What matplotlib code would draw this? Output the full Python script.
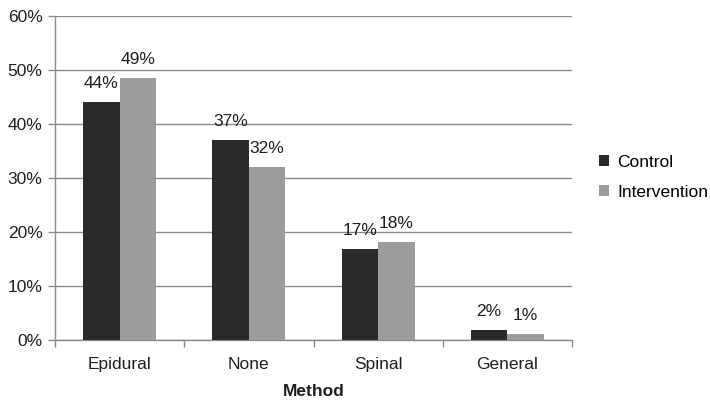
import matplotlib
matplotlib.use("Agg")
import matplotlib.pyplot as plt
import numpy as np
from matplotlib.patches import Patch

plt.rcParams['font.family'] = ['Liberation Sans', 'DejaVu Sans']

methods = ["Epidural", "None", "Spinal", "General"]
control = [44.1, 37.0, 16.9, 1.85]
intervention = [48.6, 32.0, 18.2, 1.05]
series_names = ["Control", "Intervention"]
yticks = [0, 10, 20, 30, 40, 50, 60]

dark = "#2a2a2a"
light = "#9c9c9c"
axis_gray = "#8a8a8a"
text_color = "#1e1e1e"
fs = 12.5

fig = plt.figure(figsize=(7.10, 4.01), dpi=100)
ax = fig.add_axes([55 / 710, (401 - 340) / 401, (572 - 55) / 710, (340 - 16) / 401])

x = np.arange(len(methods))
w = 0.283
b1 = ax.bar(x - w / 2, control, w, color=dark, zorder=3)
b2 = ax.bar(x + w / 2, intervention, w, color=light, zorder=3)

for bars, vals in ((b1, control), (b2, intervention)):
    for rect, v in zip(bars, vals):
        ax.text(rect.get_x() + rect.get_width() / 2, v + 2.6, f"{v:.0f}%",
                ha="center", va="baseline", fontsize=fs, color=text_color)

ax.set_xlim(-0.5, len(methods) - 0.5)
ax.set_ylim(0, 60)
ax.set_yticks(yticks)
ax.set_yticklabels([f"{t}%" for t in yticks], fontsize=fs, color=text_color)
ax.yaxis.grid(True, color=axis_gray, linewidth=1.0, zorder=0)

ax.set_xticks(x)
ax.set_xticklabels(methods, fontsize=fs, color=text_color)
ax.set_xticks(np.arange(len(methods) + 1) - 0.5, minor=True)
ax.tick_params(axis="x", which="major", length=0, pad=12)
ax.tick_params(axis="x", which="minor", length=5, color=axis_gray, width=1)
ax.tick_params(axis="y", length=5, color=axis_gray, width=1, pad=4)

for side in ("top", "right"):
    ax.spines[side].set_visible(False)
for side in ("left", "bottom"):
    ax.spines[side].set_color(axis_gray)
    ax.spines[side].set_linewidth(1.0)

ax.set_xlabel("Method", fontsize=fs, fontweight="bold", color=text_color)
ax.xaxis.set_label_coords(0.5, -(391 - 340) / 324, transform=ax.transAxes)
ax.xaxis.label.set_va("center")

handles = [Patch(facecolor=dark, edgecolor="none"), Patch(facecolor=light, edgecolor="none")]
fig.legend(handles, series_names, loc="upper left", bbox_to_anchor=(592 / 710, 1 - 148 / 401),
           frameon=False, fontsize=fs, handlelength=0.6, handleheight=0.6,
           handletextpad=0.45, labelspacing=0.85, borderaxespad=0)

fig.savefig("out.png", dpi=100)
